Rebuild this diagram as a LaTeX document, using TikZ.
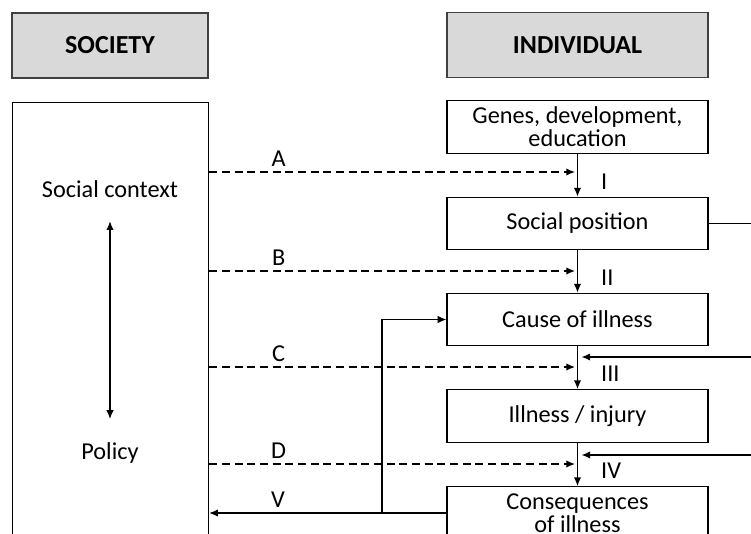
\documentclass[tikz,border=0pt]{standalone}
\usepackage{fontspec}
\setmainfont{Carlito}
\usetikzlibrary{arrows.meta}
\definecolor{headgray}{HTML}{D9D9D9}
\begin{document}
\begin{tikzpicture}[x=.75pt, y=-.75pt, >={Latex[length=6.5pt,width=5.5pt]},
  font=\fontsize{18.2}{17.2}\selectfont, line width=.9pt,
  head/.style={draw=black!75, fill=headgray, line width=1.1pt, minimum width=147pt, minimum height=48.5pt, font=\fontsize{19.5}{20}\selectfont\bfseries},
  box/.style={draw, minimum width=195.75pt, minimum height=39.5pt, inner sep=0pt, align=center},
  dasharrow/.style={->, dash pattern=on 6pt off 3.5pt}]
\useasboundingbox (0,0) rectangle (751,533);
\clip (0,0) rectangle (751,533);
% headers
\node[head] (hsoc) at (110,45.5) {SOCIETY};
\node[head, minimum width=195.75pt] (hind) at (577.5,45) {INDIVIDUAL};
% society column
\node[draw, minimum width=147pt, minimum height=380pt, anchor=north west] (soc) at (12,102) {};
\node (ctx) at (110,189) {Social context};
\node (pol) at (110,453) {Policy};
\draw[<->] ([yshift=-14pt]ctx.south) -- ([yshift=14pt]pol.north);
% individual column
\node[box] (genes) at (577.5,127) {Genes, development,\\education};
\node[box] (socpos) at (577.5,223.5) {Social position};
\node[box] (cause) at (577.5,319.5) {Cause of illness};
\node[box] (ill) at (577.5,416) {Illness / injury};
\node[box] (conseq) at (577.5,513) {Consequences\\of illness};
\draw[->] (genes) -- (socpos) node[pos=.65, anchor=west, xshift=14pt]{I};
\draw[->] (socpos) -- (cause) node[pos=.65, anchor=west, xshift=14pt]{II};
\draw[->] (cause) -- (ill) node[pos=.65, anchor=west, xshift=14pt]{III};
\draw[->] (ill) -- (conseq) node[pos=.65, anchor=west, xshift=14pt]{IV};
% society influences
\coordinate (ta) at (575,172);
\coordinate (tb) at (575,271);
\coordinate (tc) at (575,367);
\coordinate (td) at (575,464);
\draw[dasharrow] (soc.east |- ta) -- node[pos=.19, above]{A} (ta);
\draw[dasharrow] (soc.east |- tb) -- node[pos=.19, above]{B} (tb);
\draw[dasharrow] (soc.east |- tc) -- node[pos=.19, above]{C} (tc);
\draw[dasharrow] (soc.east |- td) -- node[pos=.19, above]{D} (td);
% from social position (right side)
\coordinate (r1) at (751,357);
\coordinate (r2) at (751,455);
\draw (socpos.east) -- ++(60,0);
\draw[->] (r1) -- ([xshift=3pt]cause.south |- r1);
\draw[->] (r2) -- ([xshift=3pt]cause.south |- r2);
% feedback
\coordinate (fb) at (382,0);
\draw[->] (conseq.west) -- node[pos=.71, above]{V} (soc.east |- conseq.west);
\draw[->] (fb |- conseq.west) |- (cause.west);
\end{tikzpicture}
\end{document}
